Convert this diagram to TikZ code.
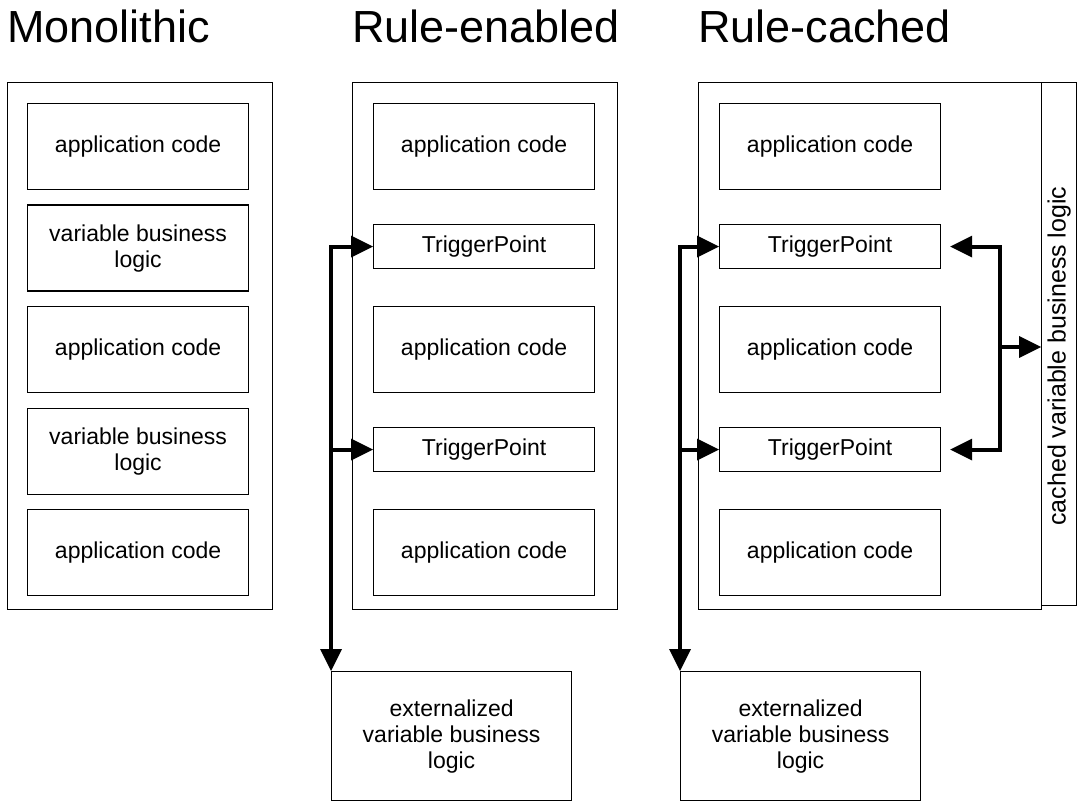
\documentclass[tikz,border=0pt]{standalone}
\usepackage{fontspec}
\setmainfont{Liberation Sans}
\usetikzlibrary{arrows.meta}

\begin{document}
\begin{tikzpicture}[x=1pt,y=-1pt,
  >={Triangle[length=22pt,width=22pt,line width=0pt]},
  frame/.style={draw=black, line width=1.2pt, inner sep=0pt, anchor=north west},
  box/.style={frame, minimum width=221pt, align=center,
              font=\fontsize{23}{26}\selectfont},
  appbox/.style={box, minimum height=86pt},
  tpbox/.style={box, minimum height=44pt},
  extbox/.style={box, minimum width=240pt, minimum height=129pt},
  title/.style={anchor=base west, inner sep=0pt, font=\fontsize{45}{50}\selectfont},
  arr/.style={line width=4pt},
]
\useasboundingbox (0,0) rectangle (1082,802);

% column titles
\node[title] (t1) at (7,43)   {Monolithic};
\node[title] (t2) at (352,43) {Rule-enabled};
\node[title] (t3) at (698,43) {Rule-cached};

% --- Monolithic ---
\node[frame, minimum width=265pt, minimum height=527pt] (mono) at (7,82) {};
\node[appbox] (m1) at (27,103)   {application code};
\node[appbox] (m2) at (27,204.5) {variable business\\logic};
\node[appbox] (m3) at (27,306)   {application code};
\node[appbox] (m4) at (27,407.5) {variable business\\logic};
\node[appbox] (m5) at (27,509)   {application code};

% --- Rule-enabled ---
\node[frame, minimum width=265pt, minimum height=527pt] (ren) at (352,82) {};
\node[appbox] (a1) at (373,103) {application code};
\node[tpbox]  (a2) at (373,224) {TriggerPoint};
\node[appbox] (a3) at (373,306) {application code};
\node[tpbox]  (a4) at (373,427) {TriggerPoint};
\node[appbox] (a5) at (373,509) {application code};
\node[extbox] (extA) at (331,671) {externalized\\variable business\\logic};

\draw[arr,<->] (a2.west) -| (extA.north west);
\draw[arr,->] (a4.west -| extA.north west) -- (a4.west);

% --- Rule-cached ---
\node[frame, minimum width=343pt, minimum height=527pt] (rca) at (698,82) {};
\node[frame, minimum width=35pt, minimum height=523pt] (side) at (1041,82) {};
\node[rotate=90, inner sep=0pt, font=\fontsize{25}{29}\selectfont] (sidetext)
  at ([yshift=-12pt]side.center) {cached variable business logic};
\node[appbox] (c1) at (719,103) {application code};
\node[tpbox]  (c2) at (719,224) {TriggerPoint};
\node[appbox] (c3) at (719,306) {application code};
\node[tpbox]  (c4) at (719,427) {TriggerPoint};
\node[appbox] (c5) at (719,509) {application code};
\node[extbox] (extB) at (680,671) {externalized\\variable business\\logic};

\draw[arr,<->] (c2.west) -| (extB.north west);
\draw[arr,->] (c4.west -| extB.north west) -- (c4.west);

% links between the trigger points and the cached rules
\draw[arr,<->] ([xshift=9pt]c2.east) -| ([xshift=59pt]c4.east) -- ([xshift=9pt]c4.east);
\coordinate (bm) at (999,347);
\draw[arr,->] (bm) -- (bm -| side.west);
\end{tikzpicture}
\end{document}
